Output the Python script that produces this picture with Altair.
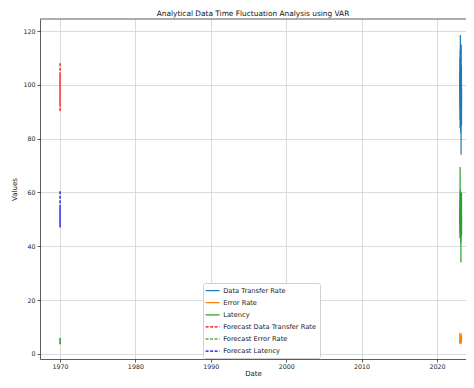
import altair as alt
import pandas as pd

series_names = [
    "Data Transfer Rate", "Error Rate", "Latency",
    "Forecast Data Transfer Rate", "Forecast Error Rate", "Forecast Latency",
]
series_colors = ["#1f77b4", "#ff7f0e", "#2ca02c", "#ff0000", "#008000", "#0000ff"]
series_dash = [[1, 0], [1, 0], [1, 0], [3, 1.5], [3, 1.5], [3, 1.5]]
series_width = [1.2, 1.2, 1.2, 1.6, 1.6, 1.6]

# observed series (early 2023, every 3 days)
actual_dates = pd.date_range("2023-01-01", periods=34, freq="3D")
data_transfer_rate = [98, 105, 92, 110, 87, 101, 95, 113, 84, 99, 106, 90, 118.5, 96, 88, 103, 109,
                      82, 97, 93, 111, 86, 100, 104, 74, 95, 115, 89, 102, 91, 107, 85, 99, 94]
error_rate = [5.2, 4.1, 6.8, 4.6, 7.9, 5.5, 3.6, 6.2, 4.8, 7.1, 5.0, 4.3, 6.5, 5.8, 3.9, 7.4, 4.9,
              6.0, 5.3, 4.4, 6.9, 5.1, 3.7, 6.3, 4.7, 5.6, 7.6, 4.2, 5.9, 5.0, 6.6, 4.5, 5.4, 6.1]
latency = [52, 48, 57, 45, 60, 50, 43, 55, 69.5, 47, 53, 58, 44, 51, 61, 46, 54,
           41, 56, 49, 59, 34, 52, 47, 55, 42, 50, 57, 45, 53, 48, 60, 44, 51]

# VAR forecast (integer step index -> epoch 1970)
forecast_steps = list(range(10))
forecast_dtr = [108, 90, 104, 93, 101, 95, 99, 96, 98, 97]
forecast_err = [5.9, 3.6, 5.3, 4.1, 5.0, 4.4, 4.9, 4.6, 4.7, 4.65]
forecast_lat = [60.5, 47, 55, 49, 54, 50, 53, 51, 52, 51.5]

rows = []
for name, vals in zip(series_names[:3], [data_transfer_rate, error_rate, latency]):
    for i, (d, v) in enumerate(zip(actual_dates, vals)):
        rows.append({"date": d.strftime("%Y-%m-%dT%H:%M:%SZ"), "value": v, "series": name, "idx": i})
for name, vals in zip(series_names[3:], [forecast_dtr, forecast_err, forecast_lat]):
    for s, v in zip(forecast_steps, vals):
        rows.append({"date": "1970-01-01T00:00:00.%03dZ" % s, "value": v, "series": name, "idx": s})
df = pd.DataFrame(rows)

font = "DejaVu Sans"
PW, PH = 426, 340

legend_kw = dict(
    orient="none", legendX=163, legendY=264,
    symbolType="M-2,0H2", symbolSize=49, symbolStrokeWidth=1.4, symbolOffset=2,
    labelFont=font, labelFontSize=6.7, labelColor="#222", labelOffset=6.1,
    fillColor="white", strokeColor="#d0d0d0", cornerRadius=2,
    padding=3.1, rowPadding=3.1,
)

lines = alt.Chart(df).mark_line().encode(
    x=alt.X("date:T", title="Date",
            scale=alt.Scale(type="utc",
                            domain=[alt.DateTime(year=1967, month=5, date=8, utc=True),
                                    alt.DateTime(year=2023, month=11, date=7, utc=True)]),
            axis=alt.Axis(values=[alt.DateTime(year=y, utc=True) for y in range(1970, 2030, 10)],
                          format="%Y", formatType="utc", labelPadding=1, titlePadding=0)),
    y=alt.Y("value:Q", title="Values",
            scale=alt.Scale(domain=[-1.86, 124.46], nice=False, zero=False),
            axis=alt.Axis(values=[0, 20, 40, 60, 80, 100, 120], labelPadding=2, titlePadding=5)),
    color=alt.Color("series:N", title=None,
                    scale=alt.Scale(domain=series_names, range=series_colors),
                    legend=alt.Legend(**legend_kw)),
    strokeDash=alt.StrokeDash("series:N", title=None,
                              scale=alt.Scale(domain=series_names, range=series_dash),
                              legend=alt.Legend(**legend_kw)),
    strokeWidth=alt.StrokeWidth("series:N",
                                scale=alt.Scale(domain=series_names, range=series_width),
                                legend=None),
    detail="series:N",
    order="idx:Q",
)

top_spine = alt.Chart(pd.DataFrame({"k": [0]})).mark_rule(color="#333", strokeWidth=0.8).encode(
    x=alt.value(0), x2=alt.value(PW), y=alt.value(0)
)

chart = alt.layer(lines, top_spine).properties(
    width=PW, height=PH,
    autosize=alt.AutoSizeParams(type="none"),
    padding={"left": 32, "top": 11, "right": 0, "bottom": 21},
    title=alt.Title("Analytical Data Time Fluctuation Analysis using VAR",
                    font=font, fontSize=7.4, fontWeight="normal", color="#111", offset=1),
).configure_axis(
    labelFont=font, titleFont=font, labelFontSize=6.3, titleFontSize=7,
    labelColor="#222", titleColor="#222", titleFontWeight="normal",
    gridColor="#d2d2d2", gridWidth=0.8, domainColor="#333", domainWidth=0.8,
    tickColor="#333", tickSize=3, tickWidth=0.8,
).configure_view(stroke=None)

chart.save("out.html", embed_options={"renderer": "svg", "actions": False})
